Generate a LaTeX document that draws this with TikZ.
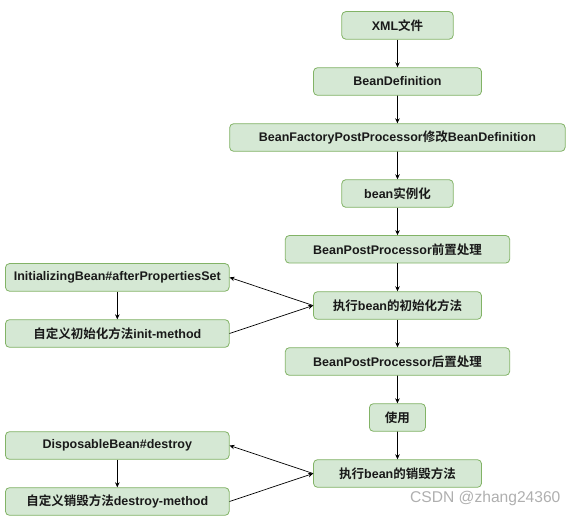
\documentclass[tikz,border=0pt]{standalone}
\usepackage{fontspec}
\setmainfont{Liberation Sans}
\newfontfamily\cjk{Noto Sans CJK SC}[BoldFont={* Bold}]
\usetikzlibrary{arrows.meta}
\definecolor{boxfill}{HTML}{D5E8D4}
\definecolor{boxline}{HTML}{82B366}
\definecolor{wm}{RGB}{175,175,175}
\begin{document}
\begin{tikzpicture}[x=1pt,y=-1pt,
  box/.style={draw=boxline, fill=boxfill, line width=0.8pt, rounded corners=4pt,
    minimum height=27.6pt, inner sep=0pt, font=\fontsize{12.5}{14}\selectfont\bfseries, text=black!90},
  arr/.style={draw=black, line width=0.7pt, -{Stealth[length=5pt,width=4.5pt]}}]
\useasboundingbox (0,0) rectangle (575,518);
\node[box, minimum width=111.4pt] (xml) at (397.5,25.4) {XML{\cjk 文件}};
\node[box, minimum width=168pt] (bd) at (397.5,81.5) {BeanDefinition};
\node[box, minimum width=335.5pt] (bfpp) at (397.4,137.5) {BeanFactoryPostProcessor{\cjk 修改}BeanDefinition};
\node[box, minimum width=111.4pt] (inst) at (397.5,193.5) {bean{\cjk 实例化}};
\node[box, minimum width=224.4pt] (bppb) at (397.5,249.3) {BeanPostProcessor{\cjk 前置处理}};
\node[box, minimum width=223.7pt] (initb) at (117.3,277.4) {InitializingBean\#afterPropertiesSet};
\node[box, minimum width=168pt] (initm) at (397.5,305.5) {{\cjk 执行}bean{\cjk 的初始化方法}};
\node[box, minimum width=223.7pt] (initc) at (117.3,333.5) {{\cjk 自定义初始化方法}init-method};
\node[box, minimum width=224.4pt] (bppa) at (397.5,361.5) {BeanPostProcessor{\cjk 后置处理}};
\node[box, minimum width=56pt] (use) at (397.4,417.5) {{\cjk 使用}};
\node[box, minimum width=223.7pt] (disb) at (117.3,445.5) {DisposableBean\#destroy};
\node[box, minimum width=168pt] (destm) at (397.5,473.5) {{\cjk 执行}bean{\cjk 的销毁方法}};
\node[box, minimum width=223.7pt] (destc) at (117.3,501.5) {{\cjk 自定义销毁方法}destroy-method};
\node[text=wm, font=\fontsize{15.6}{17}\selectfont, anchor=west, inner sep=0pt] (wmark) at (410,498.5) {CSDN @zhang24360};
\draw[arr] (xml) -- (bd);
\draw[arr] (bd) -- (bfpp);
\draw[arr] (bfpp) -- (inst);
\draw[arr] (inst) -- (bppb);
\draw[arr] (bppb) -- (initm);
\draw[arr] (initm) -- (bppa);
\draw[arr] (bppa) -- (use);
\draw[arr] (use) -- (destm);
\draw[arr] (initb) -- (initc);
\draw[arr] (disb) -- (destc);
\draw[arr] (initm.west) -- (initb.east);
\draw[arr] (initc.east) -- (initm.west);
\draw[arr] (destm.west) -- (disb.east);
\draw[arr] (destc.east) -- (destm.west);
\end{tikzpicture}
\end{document}
